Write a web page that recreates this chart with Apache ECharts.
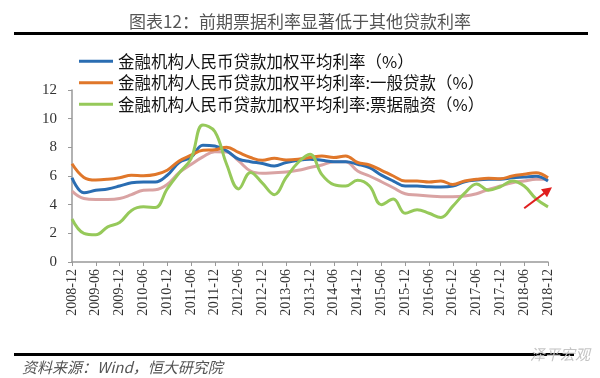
<!DOCTYPE html>
<html>
<head>
<meta charset="utf-8">
<script src="https://cdn.jsdelivr.net/npm/echarts@6/dist/echarts.min.js"></script>
<style>
  html, body { margin: 0; padding: 0; background: #fff; }
  #chart { width: 600px; height: 378px; }
</style>
</head>
<body>
<div id="chart"></div>
<script>
// 季度数据 2008-12 ~ 2018-12
const quarters = [
  '2008-12', '2009-03', '2009-06', '2009-09', '2009-12', '2010-03', '2010-06', '2010-09',
  '2010-12', '2011-03', '2011-06', '2011-09', '2011-12', '2012-03', '2012-06', '2012-09',
  '2012-12', '2013-03', '2013-06', '2013-09', '2013-12', '2014-03', '2014-06', '2014-09',
  '2014-12', '2015-03', '2015-06', '2015-09', '2015-12', '2016-03', '2016-06', '2016-09',
  '2016-12', '2017-03', '2017-06', '2017-09', '2017-12', '2018-03', '2018-06', '2018-09',
  '2018-12'
];

const avgRate = [
  5.88, 4.83, 5.0, 5.1, 5.3, 5.53, 5.58, 5.58, 6.05, 6.94, 7.3, 8.15, 8.1, 7.75,
  7.17, 7.0, 6.87, 6.7, 6.94, 7.1, 7.17, 7.1, 7.0, 7.0, 6.82, 6.58, 6.06,
  5.65, 5.3, 5.3, 5.25, 5.23, 5.3, 5.6, 5.72, 5.77, 5.77, 5.88, 5.93, 5.98, 5.65
];

const generalRate = [
  6.85, 5.9, 5.72, 5.77, 5.88, 6.05, 6.02, 6.1, 6.4, 7.05, 7.45, 7.8, 7.83, 8.0,
  7.64, 7.29, 7.1, 7.24, 7.12, 7.17, 7.29, 7.4, 7.29, 7.4, 6.94, 6.77, 6.4,
  6.0, 5.65, 5.65, 5.58, 5.65, 5.41, 5.65, 5.77, 5.84, 5.81, 6.0, 6.12, 6.23, 5.88
];

const billRate = [
  3.0, 2.0, 1.9, 2.45, 2.75, 3.6, 3.85, 3.8, 5.1, 6.2, 7.2, 9.55, 9.1, 6.8,
  5.1, 6.25, 5.5, 4.7, 5.9, 6.94, 7.52, 6.1, 5.4, 5.3, 5.7, 5.3, 4.0,
  4.4, 3.4, 3.65, 3.4, 3.1, 3.9, 4.8, 5.45, 5.0, 5.25, 5.65, 5.3, 4.4, 3.85
];

const mortgageRate = [
  4.95, 4.43, 4.36, 4.36, 4.43, 4.7, 5.0, 5.04, 5.41, 6.23, 6.8, 7.33, 7.7, 7.68,
  7.05, 6.35, 6.19, 6.23, 6.28, 6.4, 6.59, 6.77, 7.0, 7.0, 6.35, 6.0, 5.6,
  5.18, 4.76, 4.67, 4.6, 4.55, 4.55, 4.6, 4.76, 5.06, 5.3, 5.53, 5.65, 5.77, 5.77
];

const yTicks = { min: 0, max: 12, interval: 2 };

const names = [
  '金融机构人民币贷款加权平均利率（%）',
  '金融机构人民币贷款加权平均利率:一般贷款（%）',
  '金融机构人民币贷款加权平均利率:票据融资（%）',
  '金融机构人民币贷款加权平均利率:个人住房贷款（%）'
];

const chart = echarts.init(document.getElementById('chart'), null, { renderer: 'canvas' });

const serif = '"Liberation Serif", "Times New Roman", serif';
const cjk = '"Noto Sans CJK SC", sans-serif';

const option = {
  backgroundColor: '#fff',
  animation: false,
  title: {
    text: '图表12：前期票据利率显著低于其他贷款利率',
    left: 'center',
    top: 8,
    textStyle: { fontFamily: cjk, fontSize: 17, fontWeight: 'normal', color: '#555' }
  },
  legend: {
    data: names.slice(0, 3),
    orient: 'vertical',
    left: 74,
    top: 48,
    icon: 'rect',
    itemWidth: 34,
    itemHeight: 3,
    itemGap: 5,
    textStyle: { fontFamily: cjk, fontSize: 16.5, lineHeight: 16, color: '#111' }
  },
  grid: { left: 72, right: 52, top: 90, bottom: 116 },
  xAxis: {
    type: 'category',
    data: quarters,
    boundaryGap: false,
    axisLine: { lineStyle: { color: '#999', width: 1.5 } },
    axisTick: { interval: 1, length: 4, lineStyle: { color: '#999' } },
    axisLabel: { interval: 1, rotate: 90, margin: 7, fontFamily: serif, fontSize: 14, color: '#333' }
  },
  yAxis: {
    type: 'value',
    min: yTicks.min,
    max: yTicks.max,
    interval: yTicks.interval,
    splitLine: { show: false },
    axisLine: { show: true, lineStyle: { color: '#999', width: 1.5 } },
    axisTick: { show: true, length: 4, lineStyle: { color: '#999' } },
    axisLabel: { margin: 15, fontFamily: serif, fontSize: 15, color: '#333' }
  },
  series: [
    {
      name: names[3], type: 'line', data: mortgageRate, smooth: 0.4, symbol: 'none',
      lineStyle: { width: 3, color: '#d9a3a3' }, itemStyle: { color: '#d9a3a3' }
    },
    {
      name: names[0], type: 'line', data: avgRate, smooth: 0.4, symbol: 'none',
      lineStyle: { width: 3, color: '#2a6db2' }, itemStyle: { color: '#2a6db2' }
    },
    {
      name: names[1], type: 'line', data: generalRate, smooth: 0.4, symbol: 'none',
      lineStyle: { width: 3, color: '#e0772a' }, itemStyle: { color: '#e0772a' }
    },
    {
      name: names[2], type: 'line', data: billRate, smooth: 0.4, symbol: 'none',
      lineStyle: { width: 3, color: '#96c95a' }, itemStyle: { color: '#96c95a' },
      markLine: {
        silent: true,
        symbol: ['none', 'triangle'],
        symbolSize: [10, 10],
        label: { show: false },
        lineStyle: { color: '#e01f1f', width: 2, type: 'solid' },
        data: [[{ coord: ['2018-06', 3.75] }, { coord: ['2018-12', 5.0] }]]
      }
    }
  ],
  graphic: [
    { type: 'rect', left: 14, top: 32, shape: { width: 574, height: 3 }, style: { fill: '#000' } },
    { type: 'rect', left: 14, top: 353, shape: { width: 560, height: 3 }, style: { fill: '#000' } },
    {
      type: 'text', left: 22, top: 360,
      style: { text: '资料来源：Wind，恒大研究院', fontFamily: cjk, fontSize: 15, fontStyle: 'italic', fill: '#555' }
    },
    {
      type: 'text', left: 530, top: 347,
      style: { text: '泽平宏观', fontFamily: cjk, fontSize: 15, fontStyle: 'italic', fill: '#c4c4c4' }
    }
  ]
};

chart.setOption(option);
</script>
</body>
</html>
